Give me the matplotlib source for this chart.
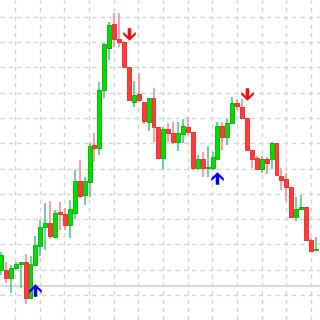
import numpy as np
import matplotlib.pyplot as plt
from matplotlib.path import Path

# price levels (higher = up)
opens = [50, 50, 42, 52, 56, 58, 22, 55, 74, 93, 97, 83, 108, 106, 95, 107, 139, 125, 138, 175,
         172, 230, 272, 296, 281, 278, 253, 218, 226, 218, 198, 222, 193, 162, 191, 187, 178, 186, 193, 188,
         152, 161, 152, 152, 161, 194, 183, 197, 217, 213, 202, 170, 162, 151, 161, 161, 177, 144, 141, 133,
         103, 111, 113, 80, 70]
closes = [65, 42, 52, 56, 58, 22, 56, 75, 93, 97, 84, 107, 106, 95, 111, 139, 124, 139, 174, 172,
          230, 276, 295, 281, 278, 253, 220, 225, 220, 199, 222, 193, 162, 191, 187, 178, 187, 194, 188, 152,
          161, 152, 152, 163, 194, 183, 197, 217, 214, 202, 170, 161, 151, 161, 157, 177, 145, 140, 133, 103,
          111, 113, 80, 69, 70]
highs = [68, 58, 55, 58, 58, 66, 64, 84, 100, 117, 119, 110, 118, 112, 120, 150, 160, 143, 177, 187,
         238, 277, 298, 307, 307, 279, 253, 239, 247, 218, 222, 232, 193, 193, 197, 198, 198, 201, 203, 188,
         165, 168, 174, 168, 198, 198, 201, 223, 221, 221, 202, 170, 164, 164, 163, 178, 177, 152, 147, 133,
         123, 125, 113, 82, 83]
lows = [45, 37, 27, 50, 32, 16, 21, 54, 64, 70, 81, 82, 90, 90, 82, 101, 122, 115, 123, 158,
        165, 222, 260, 273, 273, 253, 220, 213, 218, 196, 189, 178, 161, 151, 178, 176, 169, 177, 185, 150,
        150, 143, 143, 150, 161, 170, 175, 197, 210, 202, 170, 152, 150, 147, 146, 151, 145, 130, 119, 103,
        99, 110, 80, 68, 69]

# signal arrows: candle index and level of the arrow centre
buy_idx = [7, 44]
buy_lvl = [30, 142]
sell_idx = [26, 50]
sell_lvl = [286, 226]

o = np.array(opens)
c = np.array(closes)
h = np.array(highs)
l = np.array(lows)
x = np.arange(len(o))
up = c >= o

fig = plt.figure(figsize=(3.2, 3.2), dpi=100)
ax = fig.add_axes([0, 0, 1, 1])
ax.set_xlim(-0.2, 64.84)
ax.set_ylim(0, 320)

ax.set_xticks(np.arange(2.85, 65, 5.014))
ax.set_yticks(np.arange(25, 320, 25.3))
ax.grid(True, color='#d4d4d4', linestyle=(0, (3, 3)), linewidth=1)
ax.set_axisbelow(True)
ax.tick_params(length=0, labelbottom=False, labelleft=False)
for s in ax.spines.values():
    s.set_visible(False)

ax.axhline(34, color='#d8d8d8', linewidth=1.5, zorder=1)

wick_col = np.where(up, '#55cc88', '#ff8f8f')
ax.vlines(x, l, h, colors=wick_col, linewidth=1.2, zorder=2)

body_lo = np.minimum(o, c)
body_h = np.maximum(np.abs(c - o), 1.2)
ax.bar(x[up], body_h[up], bottom=body_lo[up], width=0.8,
       color='#00dd00', edgecolor='#00b000', linewidth=0.6, zorder=3)
ax.bar(x[~up], body_h[~up], bottom=body_lo[~up], width=0.8,
       color='#ff3b3b', edgecolor='#f02020', linewidth=0.6, zorder=3)

# chevron-headed arrow marker
pts = [(0, 0.5), (0.5, 0.02), (0.5, -0.22), (0.14, 0.12), (0.14, -0.5),
       (-0.14, -0.5), (-0.14, 0.12), (-0.5, -0.22), (-0.5, 0.02), (0, 0.5)]
up_arrow = Path(pts, closed=True)
down_arrow = Path([(px, -py) for px, py in pts], closed=True)

ax.plot(buy_idx, buy_lvl, linestyle='none', marker=up_arrow, markersize=9,
        color='#0000ff', markeredgewidth=0, zorder=4)
ax.plot(sell_idx, sell_lvl, linestyle='none', marker=down_arrow, markersize=9,
        color='#ee1111', markeredgewidth=0, zorder=4)

plt.savefig('out.png', dpi=100)
